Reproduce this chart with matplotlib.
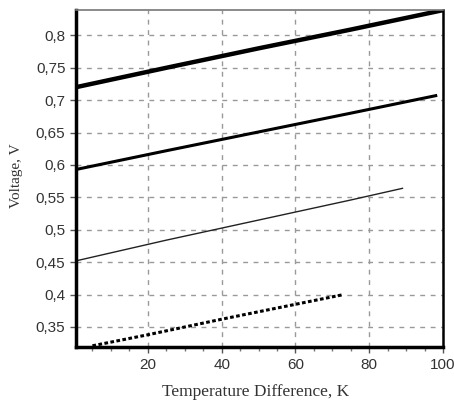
import numpy as np
import matplotlib
matplotlib.use("Agg")
import matplotlib.pyplot as plt
from matplotlib.ticker import MultipleLocator, FuncFormatter

# temperature difference (K) and voltage (V) for the four curves
t_1 = [0.5, 25, 50, 75, 100]
v_1 = [0.720, 0.750, 0.780, 0.809, 0.839]

t_2 = [0.5, 25, 50, 75, 98]
v_2 = [0.593, 0.622, 0.651, 0.680, 0.707]

t_3 = [0.5, 25, 50, 75, 89]
v_3 = [0.452, 0.484, 0.515, 0.546, 0.564]

t_4 = [5, 20, 40, 60, 73]
v_4 = [0.321, 0.338, 0.362, 0.385, 0.400]

fig = plt.figure(figsize=(4.54, 4.05), dpi=100)
ax = fig.add_axes([0.167, 0.143, 0.809, 0.832])

ax.plot(t_1, v_1, color='black', lw=3.2)
ax.plot(t_2, v_2, color='black', lw=2.2)
ax.plot(t_3, v_3, color='#222222', lw=1.0)
ax.plot(t_4, v_4, color='black', lw=2.2, ls=(0, (1.2, 0.8)))

ax.set_xlim(0.5, 100)
ax.set_ylim(0.319, 0.839)
ax.xaxis.set_major_locator(MultipleLocator(20))
ax.xaxis.set_minor_locator(MultipleLocator(5))
ax.yaxis.set_major_locator(MultipleLocator(0.05))

fmt = FuncFormatter(lambda v, p: ('%g' % round(v, 3)).replace('.', ','))
ax.yaxis.set_major_formatter(fmt)
ax.xaxis.set_major_formatter(FuncFormatter(lambda v, p: '%d' % v if v > 0 else ''))

ax.grid(True, which='major', color='#999999', ls=(0, (3.5, 4)), lw=1.0)

for lab in ax.get_xticklabels() + ax.get_yticklabels():
    lab.set_fontfamily('Liberation Sans')
    lab.set_fontsize(11)
    lab.set_color('#333333')
ax.tick_params(which='major', length=4, width=1, color='#555555')
ax.tick_params(which='minor', length=3, width=1, color='#777777')

ax.spines['left'].set_linewidth(2.5)
ax.spines['bottom'].set_linewidth(2.5)
ax.spines['right'].set_linewidth(1.8)
ax.spines['top'].set_linewidth(1.2)
ax.spines['top'].set_color('#777777')

ax.set_xlabel('Temperature Difference, K', fontfamily='Liberation Serif',
              fontsize=12.5, color='#333333')
ax.set_ylabel('Voltage, V', fontfamily='Liberation Serif',
              fontsize=11, color='#333333')
ax.xaxis.set_label_coords(0.49, -0.11)
ax.yaxis.set_label_coords(-0.145, 0.51)

fig.savefig('out.png', dpi=100)
